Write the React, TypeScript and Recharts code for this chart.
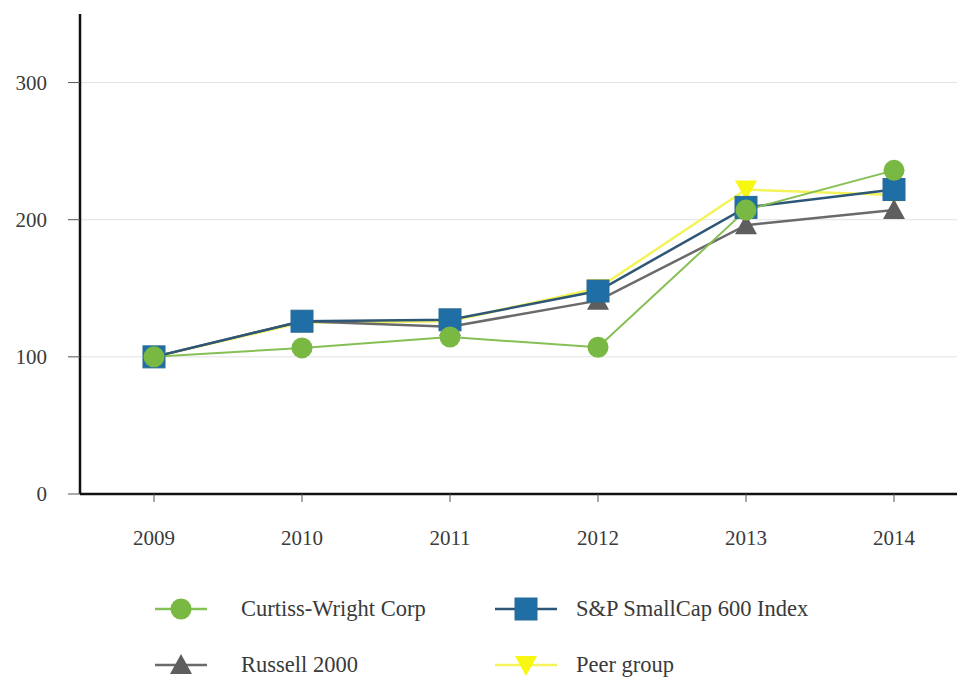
import React from 'react';
import { LineChart, Line, XAxis, YAxis, CartesianGrid, Legend } from 'recharts';

const years = ['2009', '2010', '2011', '2012', '2013', '2014'];
const curtissWright = [100, 106.5, 114.5, 107, 207, 236];
const spSmallCap600 = [100, 126, 127, 148, 209, 222];
const russell2000 = [100, 126, 122, 141, 196, 207];
const peerGroup = [100, 125, 126, 150, 222, 218];
const yTicks = [0, 100, 200, 300];
const gridValues = [100, 200, 300];

const data = years.map((y, i) => ({
  year: y,
  cw: curtissWright[i],
  sp: spSmallCap600[i],
  ru: russell2000[i],
  peer: peerGroup[i],
}));

const FONT = '"Liberation Serif", "DejaVu Serif", serif';

const C_GREEN = '#79b843';
const C_GREEN_LINE = '#86bf55';
const C_BLUE = '#1f6ea6';
const C_BLUE_LINE = '#2d5677';
const C_GRAY = '#5e5e5e';
const C_GRAY_LINE = '#6a6a6a';
const C_YELLOW = '#f7f711';
const C_YELLOW_LINE = '#f4f45a';

type Kind = 'circle' | 'square' | 'triangle' | 'triangleDown';

function Marker({ kind, cx, cy, fill }: { kind: Kind; cx: number; cy: number; fill: string }) {
  if (cx == null || cy == null) return null;
  if (kind === 'circle') return <circle cx={cx} cy={cy} r={10.5} fill={fill} />;
  if (kind === 'square')
    return <rect x={cx - 11} y={cy - 11} width={22} height={22} fill={fill} stroke="#2b6a93" strokeWidth={1} />;
  if (kind === 'triangle')
    return <polygon points={`${cx},${cy - 11} ${cx - 11},${cy + 9} ${cx + 11},${cy + 9}`} fill={fill} />;
  return <polygon points={`${cx},${cy + 11} ${cx - 11},${cy - 9} ${cx + 11},${cy - 9}`} fill={fill} />;
}

const makeDot = (kind: Kind, fill: string) => (props: any) => (
  <Marker key={`${kind}-${props.index}`} kind={kind} cx={props.cx} cy={props.cy} fill={fill} />
);

const legendItems: { key: string; name: string; kind: Kind; fill: string; line: string }[] = [
  { key: 'cw', name: 'Curtiss-Wright Corp', kind: 'circle', fill: C_GREEN, line: C_GREEN_LINE },
  { key: 'sp', name: 'S&P SmallCap 600 Index', kind: 'square', fill: C_BLUE, line: C_BLUE_LINE },
  { key: 'ru', name: 'Russell 2000', kind: 'triangle', fill: C_GRAY, line: C_GRAY_LINE },
  { key: 'peer', name: 'Peer group', kind: 'triangleDown', fill: C_YELLOW, line: C_YELLOW_LINE },
];

const LegendContent = () => (
  <svg width={957} height={110} style={{ display: 'block' }}>
    {legendItems.map((it, i) => {
      const col = i % 2;
      const row = Math.floor(i / 2);
      const x0 = col === 0 ? 155 : 495;
      const len = col === 0 ? 52 : 62;
      const cy = 40 + row * 56;
      const tx = col === 0 ? 241 : 576;
      return (
        <g key={it.key}>
          <line x1={x0} y1={cy} x2={x0 + len} y2={cy} stroke={it.line} strokeWidth={2.5} />
          <Marker kind={it.kind} cx={x0 + len / 2} cy={cy} fill={it.fill} />
          <text x={tx} y={cy + 7} fontFamily={FONT} fontSize={22.5} fill="#3a3a3a">
            {it.name}
          </text>
        </g>
      );
    })}
  </svg>
);

export default function App() {
  return (
    <div style={{ position: 'absolute', left: 0, top: 0, width: 957, height: 679, overflow: 'hidden', background: '#fff' }}>
      <LineChart
        width={968}
        height={679}
        data={data}
        margin={{ top: 14, right: 0, bottom: 0, left: 0 }}
      >
        <CartesianGrid
          horizontal
          vertical={false}
          stroke="#e3e3e3"
          strokeWidth={1}
          horizontalValues={gridValues}
        />
        <XAxis
          dataKey="year"
          padding={{ left: 74, right: 74 }}
          axisLine={{ stroke: '#111', strokeWidth: 2.5 }}
          tickLine={{ stroke: '#555', strokeWidth: 1 }}
          tickSize={8}
          tickMargin={28}
          tick={{ fontFamily: FONT, fontSize: 21, fill: '#3a3a3a' }}
          height={75}
          interval={0}
        />
        <YAxis
          domain={[0, 350]}
          ticks={yTicks}
          width={80}
          axisLine={{ stroke: '#111', strokeWidth: 2.5 }}
          tickLine={{ stroke: '#555', strokeWidth: 1 }}
          tickSize={12}
          tickMargin={21}
          tick={{ fontFamily: FONT, fontSize: 21, fill: '#3a3a3a' }}
        />
        <Legend verticalAlign="bottom" height={110} content={LegendContent as any} />
        <Line
          dataKey="peer"
          name="Peer group"
          stroke={C_YELLOW_LINE}
          strokeWidth={2.5}
          dot={makeDot('triangleDown', C_YELLOW)}
          activeDot={false}
          isAnimationActive={false}
        />
        <Line
          dataKey="ru"
          name="Russell 2000"
          stroke={C_GRAY_LINE}
          strokeWidth={2.5}
          dot={makeDot('triangle', C_GRAY)}
          activeDot={false}
          isAnimationActive={false}
        />
        <Line
          dataKey="sp"
          name="S&P SmallCap 600 Index"
          stroke={C_BLUE_LINE}
          strokeWidth={2.5}
          dot={makeDot('square', C_BLUE)}
          activeDot={false}
          isAnimationActive={false}
        />
        <Line
          dataKey="cw"
          name="Curtiss-Wright Corp"
          stroke={C_GREEN_LINE}
          strokeWidth={2}
          dot={makeDot('circle', C_GREEN)}
          activeDot={false}
          isAnimationActive={false}
        />
      </LineChart>
    </div>
  );
}
